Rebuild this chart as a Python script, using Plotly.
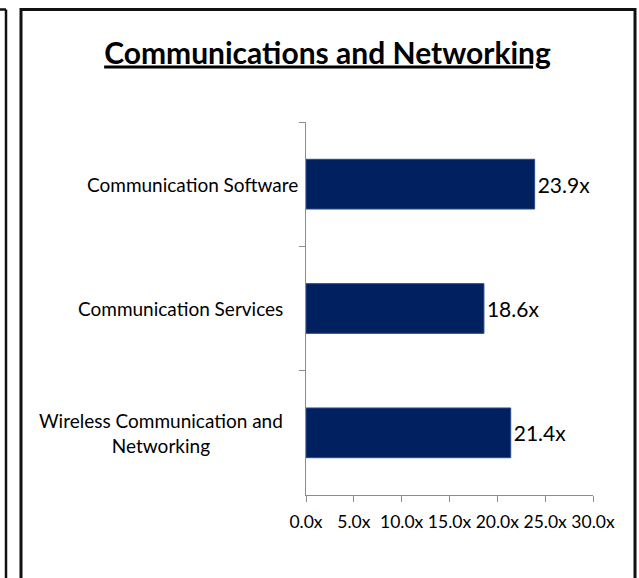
import plotly.graph_objects as go

# ---- data ----
categories = ["Communication Software", "Communication Services", "Wireless Communication and<br>Networking"]
values = [23.9, 18.6, 21.4]
x_ticks = [0, 5, 10, 15, 20, 25, 30]
x_tick_labels = ["0.0x", "5.0x", "10.0x", "15.0x", "20.0x", "25.0x", "30.0x"]
title_text = "Communications and Networking"

W, H = 639, 578
L, R, T, B = 306, 46, 122, 83
pw, ph = W - L - R, H - T - B

def px_x(p):
    return (p - L) / pw

def px_y(p):
    return 1 - (p - T) / ph

FONT = "Lato, Calibri, sans-serif"

fig = go.Figure()
fig.add_trace(go.Bar(
    x=values, y=categories, orientation="h",
    marker=dict(color="#002060", line=dict(color="#2b4c8c", width=1)),
    width=0.4,
    text=[f"{v:.1f}x" for v in values],
    textposition="outside",
    textfont=dict(family=FONT, size=21, color="#000000"),
    cliponaxis=False,
    hoverinfo="skip",
))

# category labels as annotations (centered multi-line like the original)
xshifts = [-6, -21, -21]
annotations = []
for cat, xs in zip(categories, xshifts):
    annotations.append(dict(
        x=0, xref="paper", y=cat, yref="y", xanchor="right", yanchor="middle",
        xshift=xs, text=cat, showarrow=False, align="center",
        font=dict(family=FONT, size=19, color="#000000"),
    ))

shapes = [
    # main frame
    dict(type="rect", xref="paper", yref="paper",
         x0=px_x(21), x1=px_x(635), y0=px_y(620), y1=px_y(9.5),
         line=dict(color="#111111", width=3), layer="above"),
    # neighbouring frame edge on the left
    dict(type="line", xref="paper", yref="paper",
         x0=px_x(6), x1=px_x(6), y0=px_y(9.5), y1=px_y(620),
         line=dict(color="#111111", width=2.5)),
    dict(type="line", xref="paper", yref="paper",
         x0=px_x(-5), x1=px_x(6), y0=px_y(9.5), y1=px_y(9.5),
         line=dict(color="#111111", width=2.5)),
]

fig.update_layout(
    width=W, height=H,
    margin=dict(l=L, r=R, t=T, b=B, autoexpand=False),
    paper_bgcolor="white", plot_bgcolor="white",
    showlegend=False,
    title=dict(
        text=f"<b><u>{title_text}</u></b>",
        x=327.5 / W, xref="container", xanchor="center",
        y=1 - 53 / H, yref="container", yanchor="middle",
        font=dict(family=FONT, size=30, color="#000000"),
    ),
    xaxis=dict(
        range=[0, 30], tickvals=x_ticks, ticktext=x_tick_labels,
        showgrid=False, zeroline=False,
        showline=True, linecolor="#8c8c8c", linewidth=1,
        ticks="outside", ticklen=6, tickcolor="#8c8c8c",
        ticklabelstandoff=5,
        tickfont=dict(family=FONT, size=17.5, color="#000000"),
    ),
    yaxis=dict(
        type="category", categoryorder="array", categoryarray=categories,
        autorange="reversed",
        showgrid=False, zeroline=False,
        showline=True, linecolor="#8c8c8c", linewidth=1,
        ticks="outside", ticklen=6, tickcolor="#8c8c8c", tickson="boundaries",
        showticklabels=False,
    ),
    annotations=annotations,
    shapes=shapes,
    bargap=0.6,
)

fig.write_html("out.html")
